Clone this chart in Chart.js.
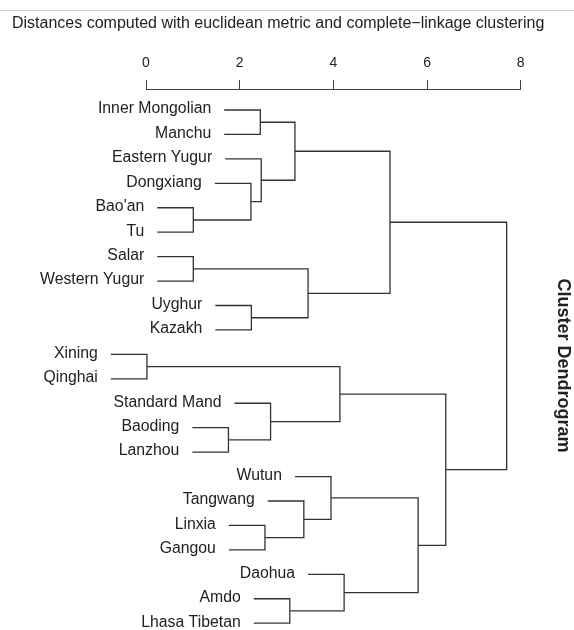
<!DOCTYPE html>
<html>
<head>
<meta charset="utf-8">
<script src="https://cdn.jsdelivr.net/npm/chart.js@4.4.0/dist/chart.umd.min.js"></script>
<style>
  html, body { margin: 0; padding: 0; background: #fff; overflow: hidden; }
  /* a little taller than the window so the side title centres where R put it */
  #wrap { width: 574px; height: 644px; position: relative; }
</style>
</head>
<body>
<div id="wrap"><canvas id="myChart"></canvas></div>
<script>
// leaves, top to bottom
const leafLabels = ['Inner Mongolian', 'Manchu', 'Eastern Yugur', 'Dongxiang', "Bao'an", 'Tu',
  'Salar', 'Western Yugur', 'Uyghur', 'Kazakh', 'Xining', 'Qinghai', 'Standard Mand', 'Baoding',
  'Lanzhou', 'Wutun', 'Tangwang', 'Linxia', 'Gangou', 'Daohua', 'Amdo', 'Lhasa Tibetan'];

// merge steps (hclust style): negative = leaf number, positive = earlier merge step
const mergeLeft   = [-11, -5, -7, -14, -4, -9, -1, -3, -18, -13, -21, 7, -17, 3, -16, 1, -20, 12, 15, 16, 18];
const mergeRight  = [-12, -6, -8, -15, 2, -10, -2, 5, -19, 4, -22, 8, 9, 6, 13, 10, 11, 14, 17, 19, 20];
const mergeHeight = [0.02, 1.01, 1.01, 1.76, 2.24, 2.25, 2.44, 2.46, 2.54, 2.66, 3.07, 3.18, 3.37, 3.46, 3.95, 4.14, 4.23, 5.21, 5.81, 6.40, 7.70];

const distTicks = [0, 2, 4, 6, 8];
const chartTitle = 'Distances computed with euclidean metric and complete\u2212linkage clustering';
const sideTitle = 'Cluster Dendrogram';

Chart.defaults.font.family = '"Liberation Sans", Arial, sans-serif';
Chart.defaults.color = '#222';

// leaves hang 10% of the tree height below their merge (like plot.hclust)
const hang = 0.1 * Math.max(...mergeHeight);
const nodeY = [];
const leafX = [];

function yOf(c) {
    return c < 0 ? -c : nodeY[c - 1];
}
function xOf(c, h) {
    return c < 0 ? h - hang : mergeHeight[c - 1];
}

mergeHeight.forEach((h, k) => {
    nodeY[k] = (yOf(mergeLeft[k]) + yOf(mergeRight[k])) / 2;
    [mergeLeft[k], mergeRight[k]].forEach(c => {
        if (c < 0) leafX[-c - 1] = h - hang;
    });
});

var datasets = mergeHeight.map((h, k) => {
    var l = mergeLeft[k], r = mergeRight[k];
    return {
        data: [
            {x: xOf(l, h), y: yOf(l)},
            {x: h, y: yOf(l)},
            {x: h, y: yOf(r)},
            {x: xOf(r, h), y: yOf(r)}
        ],
        showLine: true,
        borderColor: '#333',
        borderWidth: 1.3,
        pointRadius: 0,
        clip: false
    };
});

const topRule = {
    id: 'topRule',
    beforeDraw(chart) {
        const ctx = chart.ctx;
        ctx.save();
        ctx.strokeStyle = '#cfcfcf';
        ctx.lineWidth = 1;
        ctx.beginPath();
        ctx.moveTo(0, 10.5);
        ctx.lineTo(chart.width, 10.5);
        ctx.stroke();
        ctx.restore();
    }
};

const leafText = {
    id: 'leafText',
    afterDatasetsDraw(chart) {
        const {ctx, scales: {x, y}} = chart;
        ctx.save();
        ctx.font = '15.8px "Liberation Sans", Arial, sans-serif';
        ctx.fillStyle = '#222';
        ctx.textAlign = 'right';
        ctx.textBaseline = 'middle';
        leafLabels.forEach((name, i) => {
            ctx.fillText(name, x.getPixelForValue(leafX[i]) - 13, y.getPixelForValue(i + 1) - 1);
        });
        ctx.restore();
    }
};

new Chart(document.getElementById('myChart'), {
    type: 'scatter',
    data: { datasets: datasets },
    plugins: [topRule, leafText],
    options: {
        responsive: true,
        maintainAspectRatio: false,
        animation: false,
        layout: { padding: { left: 12, right: 0, top: 0, bottom: 2 } },
        plugins: {
            legend: { display: false },
            tooltip: { enabled: false },
            title: {
                display: true,
                text: chartTitle,
                align: 'start',
                color: '#222',
                font: { size: 16, weight: 'normal' },
                padding: { top: 14.4, bottom: 12.6 }
            }
        },
        scales: {
            x: {
                type: 'linear',
                position: 'top',
                min: distTicks[0],
                max: distTicks[distTicks.length - 1],
                afterBuildTicks: s => { s.ticks = distTicks.map(v => ({value: v})); },
                ticks: { padding: 8.5, color: '#222', font: { size: 14 } },
                grid: { drawOnChartArea: false, drawTicks: true, tickLength: 9, color: '#444', lineWidth: 1 },
                border: { display: true, color: '#444', width: 1 }
            },
            y: {
                type: 'linear',
                reverse: true,
                min: 0.14,
                max: 22.77,
                ticks: { display: false },
                grid: { display: false },
                border: { display: false },
                afterFit: s => { s.width = 134; }
            },
            y2: {
                type: 'linear',
                axis: 'y',
                position: 'right',
                ticks: { display: false },
                grid: { display: false },
                border: { display: false },
                title: {
                    display: true,
                    text: sideTitle,
                    color: '#222',
                    font: { size: 18, weight: 'bold' },
                    padding: { top: 0.5, bottom: 0 }
                },
                afterFit: s => { s.width = 53.3; }
            }
        }
    }
});
</script>
</body>
</html>
